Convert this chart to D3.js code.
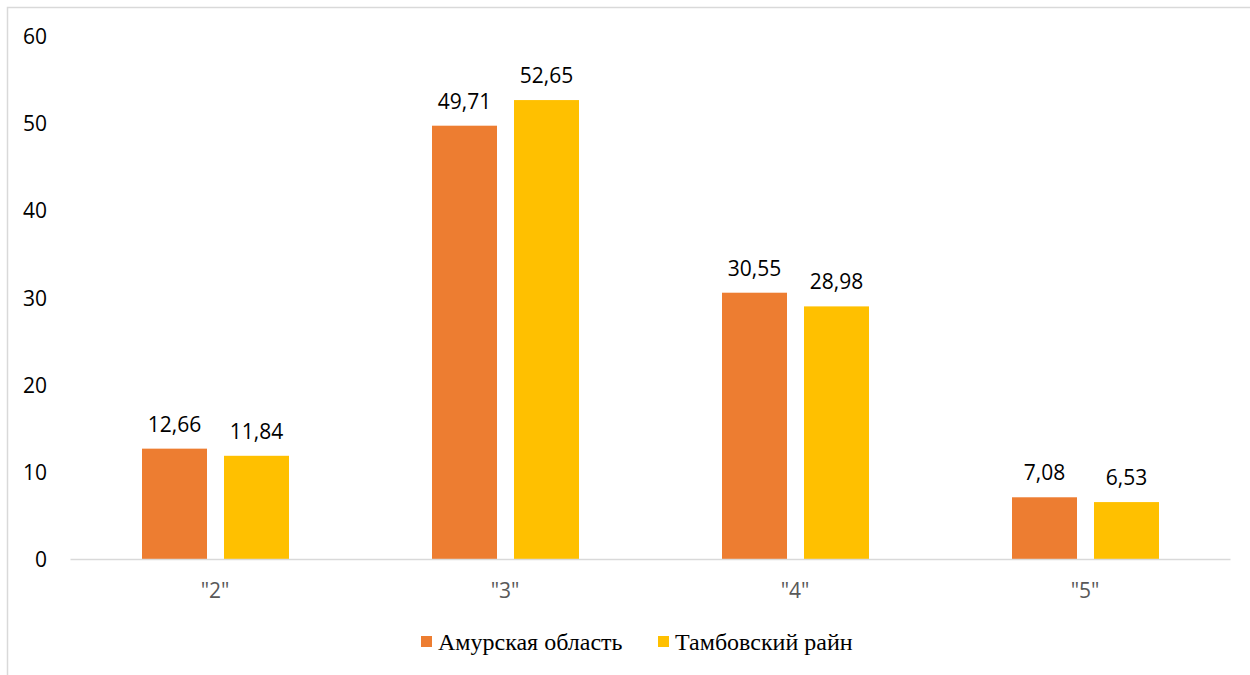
<!DOCTYPE html>
<html><head><meta charset="utf-8">
<script src="https://cdn.jsdelivr.net/npm/d3@7"></script>
<style>body{margin:0;background:#fff}svg{display:block}</style>
</head><body>
<script>
const categories = ['"2"', '"3"', '"4"', '"5"'];
const seriesNames = ["Амурская область", "Тамбовский райн"];
const amur = [12.66, 49.71, 30.55, 7.08];
const tambov = [11.84, 52.65, 28.98, 6.53];
const yTicks = [0, 10, 20, 30, 40, 50, 60];
const colors = ["#ED7D31", "#FFC000"];

const W = 1250, H = 675;
const svg = d3.select("body").append("svg").attr("width", W).attr("height", H);

// frame
svg.append("path").attr("d", "M7.5,675 V7.5 H1250").attr("fill", "none").attr("stroke", "#d9d9d9").attr("stroke-width", 1.5);

const x = d3.scaleBand().domain(categories).range([70, 1230]);
const y = d3.scaleLinear().domain([0, 60]).range([559, 36]);
const inner = d3.scaleBand().domain([0, 1]).range([0, 147]).paddingInner(17/82);

const yAxis = svg.append("g").attr("transform", "translate(70,0)")
  .call(d3.axisLeft(y).tickValues(yTicks).tickSize(0).tickPadding(0).tickFormat(d3.format("d")));
yAxis.select(".domain").remove();
yAxis.selectAll("text").attr("x", -23).attr("text-anchor", "end").attr("dy", "0.36em")
  .attr("font-family", "Open Sans").attr("font-size", 21).attr("fill", "#000");

const series = [amur, tambov];
series.forEach((vals, si) => {
  const g = svg.append("g");
  categories.forEach((c, i) => {
    const x0 = x(c) + x.bandwidth()/2 - 73 + inner(si);
    g.append("rect").attr("x", x0).attr("y", y(vals[i]))
      .attr("width", inner.bandwidth()).attr("height", y(0) - y(vals[i]))
      .attr("fill", colors[si]);
    g.append("text").attr("x", x0 + inner.bandwidth()/2).attr("y", y(vals[i]) - 17)
      .attr("text-anchor", "middle").attr("font-family", "Open Sans").attr("font-size", 21)
      .attr("fill", "#000").text(vals[i].toFixed(2).replace(".", ","));
  });
});

const xAxis = svg.append("g").attr("transform", "translate(0,559)")
  .call(d3.axisBottom(x).tickSize(0).tickPadding(0));
xAxis.select(".domain").attr("stroke", "#d9d9d9").attr("stroke-width", 1.5);
xAxis.selectAll("text").attr("y", 39).attr("dy", 0).attr("font-family", "Open Sans").attr("font-size", 21).attr("fill", "#595959");

// legend
const leg = svg.append("g");
const legX = [421, 658];
seriesNames.forEach((n, i) => {
  leg.append("rect").attr("x", legX[i]).attr("y", 636).attr("width", 11).attr("height", 11).attr("fill", colors[i]);
  leg.append("text").attr("x", legX[i] + 17).attr("y", 650)
    .attr("font-family", "Liberation Serif").attr("font-size", 24).attr("fill", "#000").text(n);
});
</script>
</body></html>
